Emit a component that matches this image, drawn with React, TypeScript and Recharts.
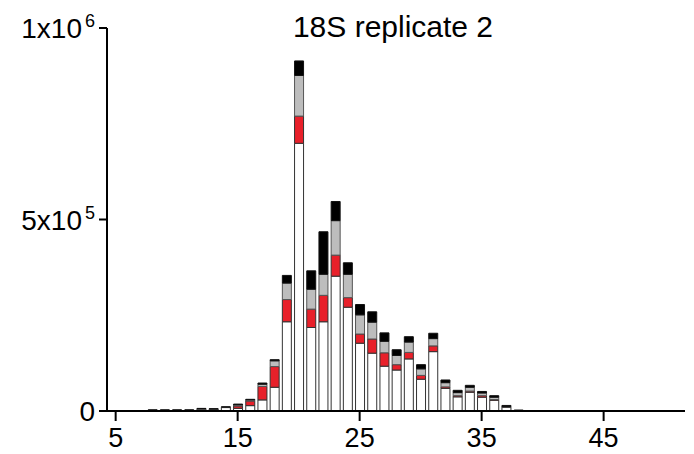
import { BarChart, Bar, XAxis, YAxis } from 'recharts'

// read length (x) and stacked counts, in thousands, bottom to top
const lengths = [8, 9, 10, 11, 12, 13, 14, 15, 16, 17, 18, 19, 20, 21, 22, 23, 24, 25, 26, 27, 28, 29, 30, 31, 32, 33, 34, 35, 36, 37, 38]
const whiteK = [1, 1, 1, 1, 5, 4, 9, 7, 14, 29, 62, 233, 699, 218, 233, 352, 271, 177, 151, 117, 107, 136, 83, 155, 59, 37, 49, 36, 28, 10, 0.5]
const redK = [0, 0, 0, 0, 0.3, 0.3, 0.3, 6, 12, 35, 54, 58, 71, 48, 69, 55, 25, 24, 37, 35, 14, 17, 10, 15, 4, 3, 3, 4, 2, 0.5, 0]
const grayK = [1, 1, 1, 1, 1, 1, 1, 3, 3, 6, 15, 43, 106, 52, 55, 90, 61, 50, 44, 30, 24, 27, 17, 19, 11, 8, 10, 7, 6, 1, 0.5]
const blackK = [1, 1, 1, 1, 0.5, 0.5, 0.5, 2, 1.5, 3, 3, 20, 38, 48, 111, 50, 30, 27, 27, 22, 15, 14, 11, 14, 7, 6, 5, 4, 4, 3, 1.5]

const xTicks = [5, 15, 25, 35, 45]
const yTicks = [0, 500000, 1000000]
const yLabels: Record<number, [string, string]> = {
	0: ['0', ''],
	500000: ['5x10', '5'],
	1000000: ['1x10', '6'],
}

const FONT = '"Liberation Sans", Arial, Helvetica, sans-serif'

const data = lengths.map((len, i) => ({
	len,
	white: whiteK[i] * 1000,
	red: redK[i] * 1000,
	gray: grayK[i] * 1000,
	black: blackK[i] * 1000,
}))

function YTick({ x, y, payload }: any) {
	const [base, sup] = yLabels[payload.value] ?? [String(payload.value), '']
	return (
		<text x={x} y={y + 10} textAnchor='end' fontFamily={FONT} fontSize={28} fill='#000'>
			{base}
			{sup && (
				<tspan fontSize={18} dy={-11} dx={3}>
					{sup}
				</tspan>
			)}
		</text>
	)
}

export default function App() {
	const barStroke = '#333'
	return (
		<div style={{ position: 'absolute', left: 0, top: 0, width: 694, height: 454, background: '#fff' }}>
			<BarChart
				width={694}
				height={454}
				data={data}
				margin={{ top: 28, right: 9, bottom: 0, left: 7 }}
			>
				<XAxis
					dataKey='len'
					type='number'
					domain={[4.29, 51.67]}
					allowDataOverflow
					ticks={xTicks}
					interval={0}
					height={43}
					tickSize={10}
					tickMargin={7}
					axisLine={{ stroke: '#000', strokeWidth: 2 }}
					tickLine={{ stroke: '#000', strokeWidth: 2 }}
					tick={{ fill: '#000', fontSize: 27, fontFamily: FONT }}
				/>
				<YAxis
					type='number'
					domain={[0, 1000000]}
					ticks={yTicks}
					interval={0}
					width={100}
					tickSize={8}
					tickMargin={4}
					axisLine={{ stroke: '#000', strokeWidth: 2 }}
					tickLine={{ stroke: '#000', strokeWidth: 2 }}
					tick={<YTick />}
				/>
				<Bar dataKey='white' stackId='a' fill='#fff' stroke={barStroke} strokeWidth={1} barSize={9} isAnimationActive={false} />
				<Bar dataKey='red' stackId='a' fill='#e8202a' stroke={barStroke} strokeWidth={1} barSize={9} isAnimationActive={false} />
				<Bar dataKey='gray' stackId='a' fill='#bdbdbd' stroke='#555' strokeWidth={1} barSize={9} isAnimationActive={false} />
				<Bar dataKey='black' stackId='a' fill='#000' stroke='#111' strokeWidth={1} barSize={9} isAnimationActive={false} />
			</BarChart>
			<svg width={694} height={60} style={{ position: 'absolute', left: 0, top: 0, pointerEvents: 'none' }}>
				<text x={393} y={37} textAnchor='middle' fontFamily={FONT} fontSize={30} fill='#000'>
					18S replicate 2
				</text>
			</svg>
		</div>
	)
}
